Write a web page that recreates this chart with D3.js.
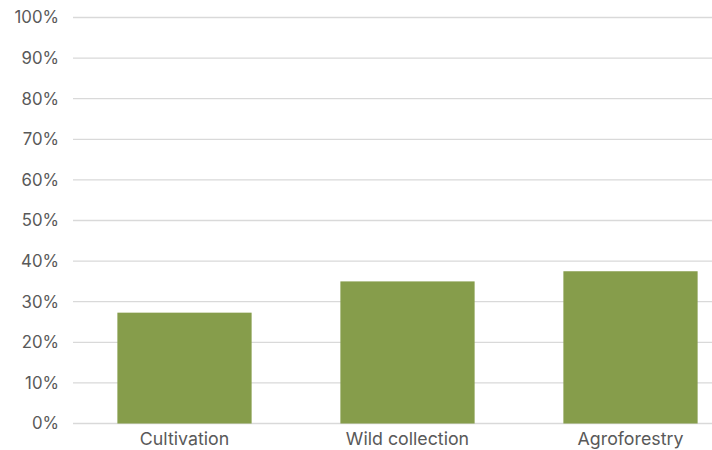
<!DOCTYPE html>
<html><head><meta charset="utf-8">
<script src="https://cdn.jsdelivr.net/npm/d3@7"></script>
<style>
html,body{margin:0;padding:0;background:#fff;}
svg{display:block;}
text{font-family:Inter,"Liberation Sans",Arial,sans-serif;fill:#595959;}
</style></head>
<body>
<svg id="chart" width="712" height="450"></svg>
<script>
const categories = ["Cultivation", "Wild collection", "Agroforestry"];
const values = [0.273, 0.35, 0.375];
const yTicks = [0, 0.1, 0.2, 0.3, 0.4, 0.5, 0.6, 0.7, 0.8, 0.9, 1.0];

const svg = d3.select("#chart");
const mLeft = 73, mRight = 742, mTop = 17.5, mBottom = 423.5;
const FONT = 'Inter,"Liberation Sans",Arial,sans-serif';

const x = d3.scaleBand().domain(categories).range([mLeft, mRight]).paddingInner(0.398).paddingOuter(0.199);
const y = d3.scaleLinear().domain([0, 1]).range([mBottom, mTop]);

// gridlines
svg.append("g").selectAll("line").data(yTicks).join("line")
  .attr("x1", mLeft).attr("x2", 712)
  .attr("y1", d => y(d)).attr("y2", d => y(d))
  .attr("stroke", "#d9d9d9").attr("stroke-width", 1.3);

// bars
svg.append("g").selectAll("rect").data(values).join("rect")
  .attr("x", (d, i) => x(categories[i]))
  .attr("width", x.bandwidth())
  .attr("y", d => y(d))
  .attr("height", d => y(0) - y(d))
  .attr("fill", "#869d4b");

// y axis labels
const yAxis = d3.axisLeft(y).tickValues(yTicks).tickFormat(d3.format(".0%")).tickSize(0).tickPadding(14);
const gy = svg.append("g").attr("transform", `translate(${mLeft},0)`).call(yAxis);
gy.select(".domain").remove();
gy.attr("font-family", null).attr("font-size", null);
gy.selectAll("text").style("font-size", "16.8px").style("font-family", FONT).attr("fill", "#595959");

// x axis labels
const xAxis = d3.axisBottom(x).tickSize(0).tickPadding(9);
const gx = svg.append("g").attr("transform", `translate(0,${mBottom})`).call(xAxis);
gx.select(".domain").remove();
gx.attr("font-family", null).attr("font-size", null);
gx.selectAll("text").style("font-size", "17.8px").style("font-family", FONT).attr("fill", "#595959");
</script>
</body></html>
